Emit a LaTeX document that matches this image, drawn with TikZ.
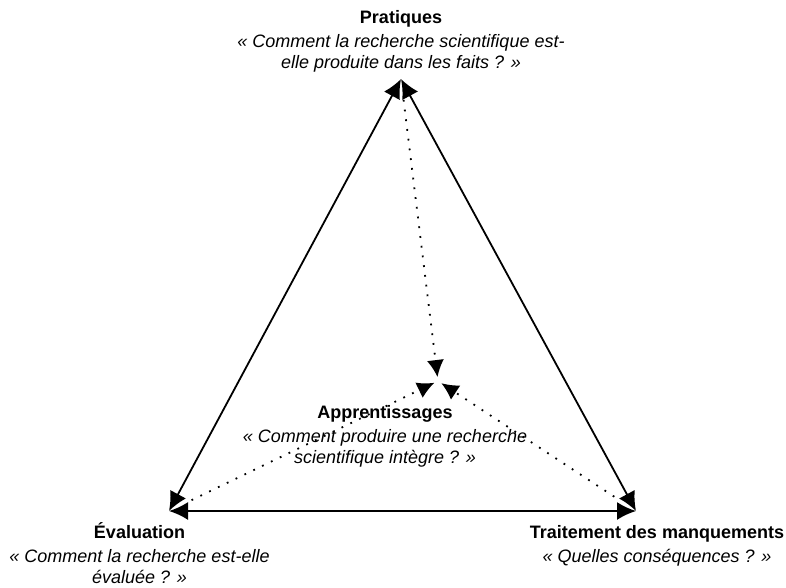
\documentclass[tikz,border=0pt]{standalone}
\usepackage{fontspec}
\setmainfont{Liberation Sans}
\usetikzlibrary{arrows.meta}
\def\tstrut{\rule{0pt}{17pt}}
\tikzset{
	lbl/.style={anchor=north, align=center, inner sep=0pt, font=\fontsize{18}{21.5}\selectfont},
	edge/.style={line width=1.8pt, {Latex[length=19pt,width=18pt]}-{Latex[length=19pt,width=18pt]}},
	dots/.style={line width=1.8pt, dash pattern=on 1.8pt off 8pt, -{Latex[length=17pt,width=17pt]}, shorten >=4pt}
}

\begin{document}
\begin{tikzpicture}[x=1pt, y=-1pt]
			%%%%% START %%%%%
			\useasboundingbox (0, 0) rectangle (786, 587);
			
			\coordinate (P) at (401, 79);
			\coordinate (E) at (169, 511);
			\coordinate (T) at (636, 511);
			\coordinate (A) at (438, 381);
			
			\draw[edge] (P) -- (E);
			\draw[edge] (P) -- (T);
			\draw[edge] (E) -- (T);
			
			\draw[dots, shorten <=21pt] (P) -- (A);
			\draw[dots, shorten <=25pt] (E) -- (A);
			\draw[dots, shorten <=26pt] (T) -- (A);
			
			\node[lbl] (pratiques) at (401, 6) {\tstrut\textbf{Pratiques}\\[2.5pt]
				\textit{« Comment la recherche scientifique est-}\\
				\textit{elle produite dans les faits ? »}};
			
			\node[lbl] (apprentissages) at (385, 401) {\tstrut\textbf{Apprentissages}\\[2.5pt]
				\textit{« Comment produire une recherche}\\
				\textit{scientifique intègre ? »}};
			
			\node[lbl] (evaluation) at (139.5, 521) {\tstrut\textbf{Évaluation}\\[2.5pt]
				\textit{« Comment la recherche est-elle}\\
				\textit{évaluée ? »}};
			
			\node[lbl] (traitement) at (657, 521) {\tstrut\textbf{Traitement des manquements}\\[2.5pt]
				\textit{« Quelles conséquences ? »}};
			%%%%% END %%%%%
\end{tikzpicture}
\end{document}
